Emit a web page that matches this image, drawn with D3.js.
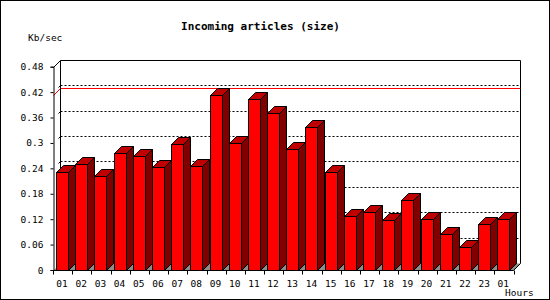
<!DOCTYPE html>
<html>
<head>
<meta charset="utf-8">
<script src="https://cdn.jsdelivr.net/npm/d3@7"></script>
<style>
  body { margin: 0; background: #fff; }
  text { font-family: "DejaVu Sans Mono", monospace; }
</style>
</head>
<body>
<svg id="chart" width="550" height="300"></svg>
<script>
// hours on the x axis (last one wraps back to 01)
let hours = ["01", "02", "03", "04", "05", "06", "07", "08", "09", "10", "11", "12",
             "13", "14", "15", "16", "17", "18", "19", "20", "21", "22", "23", "01"];
// incoming size per hour, Kb/sec
let kbPerSec = [0.231, 0.250, 0.221, 0.276, 0.269, 0.243, 0.297, 0.245, 0.413, 0.299, 0.403, 0.370,
                0.285, 0.337, 0.231, 0.127, 0.136, 0.117, 0.165, 0.120, 0.084, 0.054, 0.108, 0.120];
let yTicks = [0, 0.06, 0.12, 0.18, 0.24, 0.3, 0.36, 0.42, 0.48];
let yTickLabels = ["0", "0.06", "0.12", "0.18", "0.24", "0.3", "0.36", "0.42", "0.48"];

let svg = d3.select("#chart");
let depth = 7;          // 3d offset of the back wall
let plotLeft = 53.5, plotRight = 514;
let plotBottom = 270, plotTop = 66.7;

let crisp = function (v) { return Math.round(v) + 0.5; };

let xScale = d3.scaleBand().domain(d3.range(hours.length)).range([plotLeft, plotRight]);
let yScale = d3.scaleLinear().domain([0, 0.48]).range([plotBottom, plotTop]);

let barOffset = 2.5, barWidth = 12;

// image frame
svg.append("rect").attr("x", 0.5).attr("y", 0.5).attr("width", 549).attr("height", 299)
    .attr("fill", "#fff").attr("stroke", "#000");

// floor of the 3d box
let bx = plotLeft + depth, by = crisp(plotBottom) - depth;
let rightEnd = crisp(plotRight - 1);
svg.append("path")
    .attr("d", "M" + plotLeft + "," + crisp(plotBottom) + "L" + rightEnd + "," + crisp(plotBottom) +
        "L" + (rightEnd + depth) + "," + by + "L" + bx + "," + by + "Z")
    .attr("fill", "#8c8c8c").attr("stroke", "none");

// dotted grid on the back wall
let grid = svg.append("g");
yTicks.slice(1, yTicks.length - 1).forEach(function (v) {
    let yy = crisp(yScale(v)) - depth;
    grid.append("line")
        .attr("x1", bx).attr("x2", rightEnd + depth)
        .attr("y1", yy).attr("y2", yy)
        .attr("stroke", "#000").attr("stroke-dasharray", "2,2");
    grid.append("line")
        .attr("x1", bx - 2).attr("x2", bx)
        .attr("y1", yy + 2).attr("y2", yy)
        .attr("stroke", "#000");
});

// red line at the max value
let maxY = crisp(yScale(d3.max(kbPerSec)));
svg.append("path")
    .attr("d", "M" + plotLeft + "," + maxY + "L" + bx + "," + (maxY - depth) + "L" + (rightEnd + depth) + "," + (maxY - depth))
    .attr("fill", "none").attr("stroke", "#ff0000");

// back box outline
let topY = crisp(yScale(0.48));
svg.append("path")
    .attr("d", "M" + plotLeft + "," + topY + "L" + bx + "," + (topY - depth) +
        "L" + (rightEnd + depth) + "," + (topY - depth) +
        "L" + (rightEnd + depth) + "," + by + "L" + rightEnd + "," + crisp(plotBottom))
    .attr("fill", "none").attr("stroke", "#000");
svg.append("line").attr("x1", bx).attr("x2", bx).attr("y1", topY - depth).attr("y2", by)
    .attr("stroke", "#000");

// 3d bars
let bars = svg.append("g").selectAll("g").data(kbPerSec).enter().append("g");
bars.each(function (d, i) {
    let g = d3.select(this);
    let x1 = crisp(xScale(i) + barOffset);
    let x2 = x1 + barWidth;
    let yt = crisp(yScale(d));
    let yb = crisp(plotBottom);
    g.append("path")
        .attr("d", "M" + x2 + "," + yt + "L" + (x2 + depth) + "," + (yt - depth) +
            "L" + (x2 + depth) + "," + (yb - depth) + "L" + x2 + "," + yb + "Z")
        .attr("fill", "#800000").attr("stroke", "#000");
    g.append("path")
        .attr("d", "M" + x1 + "," + yt + "L" + (x1 + depth) + "," + (yt - depth) +
            "L" + (x2 + depth) + "," + (yt - depth) + "L" + x2 + "," + yt + "Z")
        .attr("fill", "#c00000").attr("stroke", "#000");
    g.append("rect")
        .attr("x", x1).attr("y", yt).attr("width", barWidth).attr("height", yb - yt)
        .attr("fill", "#ff0000").attr("stroke", "#000");
});

// y axis
let yAxis = d3.axisLeft(yScale).tickValues(yTicks).tickSize(3).tickPadding(7)
    .tickFormat(function (d, i) { return yTickLabels[i]; });
let yAxisG = svg.append("g").attr("transform", "translate(" + plotLeft + ",0)").call(yAxis);
yAxisG.selectAll("text").style("font-size", "9.5px").attr("fill", "#000");

// x axis labels under bar fronts
let xAxis = d3.axisBottom(xScale).tickSize(0).tickPadding(10)
    .tickFormat(function (i) { return hours[i]; });
let xAxisG = svg.append("g").attr("transform", "translate(" + (barOffset + barWidth / 2 - xScale.bandwidth() / 2) + "," + crisp(plotBottom) + ")")
    .call(xAxis);
xAxisG.select(".domain").remove();
xAxisG.selectAll("text").style("font-size", "9.5px").attr("fill", "#000");

// x axis line and ticks at slot edges
svg.append("line").attr("x1", plotLeft).attr("x2", rightEnd).attr("y1", crisp(plotBottom)).attr("y2", crisp(plotBottom))
    .attr("stroke", "#000");
svg.append("g").selectAll("line").data(d3.range(hours.length + 1)).enter().append("line")
    .attr("x1", function (i) { return crisp(plotLeft + i * xScale.bandwidth() - 0.5); })
    .attr("x2", function (i) { return crisp(plotLeft + i * xScale.bandwidth() - 0.5); })
    .attr("y1", crisp(plotBottom)).attr("y2", crisp(plotBottom) + 4)
    .attr("stroke", "#000");

// titles
svg.append("text").attr("x", 260.5).attr("y", 30).attr("text-anchor", "middle")
    .style("font-size", "11px").style("font-weight", "bold")
    .text("Incoming articles (size)");
svg.append("text").attr("x", 28).attr("y", 40.5).style("font-size", "9.5px").text("Kb/sec");
svg.append("text").attr("x", 505).attr("y", 295.5).style("font-size", "9.5px").text("Hours");
</script>
</body>
</html>
